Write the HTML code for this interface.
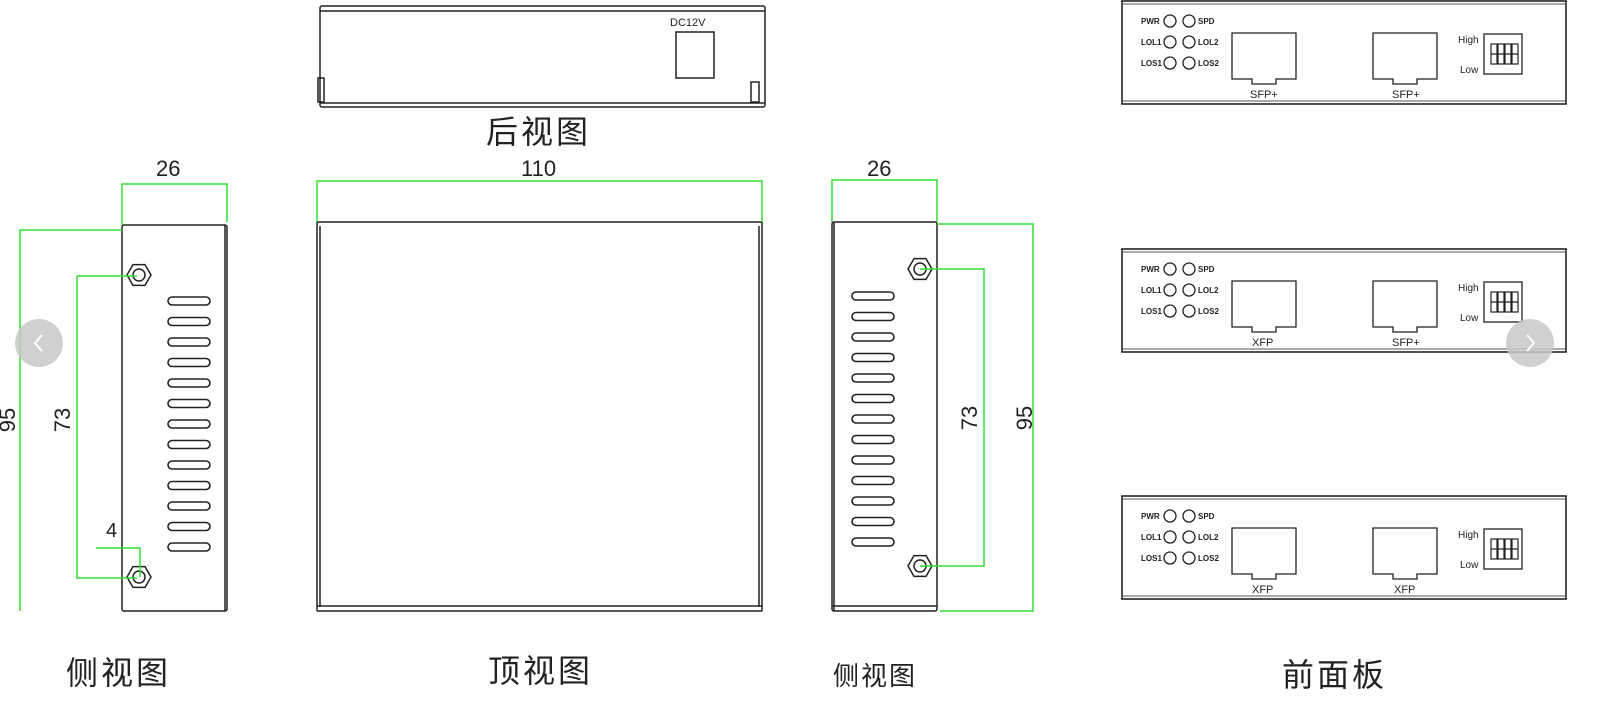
<!DOCTYPE html>
<html><head><meta charset="utf-8"><style>
html,body{margin:0;padding:0;background:#fff;width:1600px;height:702px;overflow:hidden}
svg{display:block}
text{font-family:"Liberation Sans","Noto Sans CJK SC",sans-serif}
</style></head><body>
<svg width="1600" height="702" viewBox="0 0 1600 702" xmlns="http://www.w3.org/2000/svg">
<defs>
<g id="slots" fill="none" stroke="#222" stroke-width="1.6">
<rect x="0" y="0" width="42" height="8" rx="4"/><rect x="0" y="20.5" width="42" height="8" rx="4"/><rect x="0" y="41" width="42" height="8" rx="4"/><rect x="0" y="61.5" width="42" height="8" rx="4"/><rect x="0" y="82" width="42" height="8" rx="4"/><rect x="0" y="102.5" width="42" height="8" rx="4"/><rect x="0" y="123" width="42" height="8" rx="4"/><rect x="0" y="143.5" width="42" height="8" rx="4"/><rect x="0" y="164" width="42" height="8" rx="4"/><rect x="0" y="184.5" width="42" height="8" rx="4"/><rect x="0" y="205" width="42" height="8" rx="4"/><rect x="0" y="225.5" width="42" height="8" rx="4"/><rect x="0" y="246" width="42" height="8" rx="4"/>
</g>
<g id="nut" fill="none" stroke="#222" stroke-width="1.5">
<polygon points="12,0 6,10.4 -6,10.4 -12,0 -6,-10.4 6,-10.4"/><circle r="6"/>
</g>
<g id="port" fill="none" stroke="#222" stroke-width="1.3">
<polygon points="0,0 64,0 64,46 44,46 44,51 20,51 20,46 0,46"/>
</g>
<g id="panel">
<rect x="1122" y="1" width="444" height="103" fill="none" stroke="#222" stroke-width="1.6"/>
<line x1="1122" y1="4" x2="1566" y2="4" stroke="#555" stroke-width="1"/>
<line x1="1122" y1="101" x2="1566" y2="101" stroke="#555" stroke-width="1"/>
<g fill="none" stroke="#222" stroke-width="1.3">
<circle cx="1170" cy="21" r="6"/><circle cx="1189" cy="21" r="6"/>
<circle cx="1170" cy="42" r="6"/><circle cx="1189" cy="42" r="6"/>
<circle cx="1170" cy="63" r="6"/><circle cx="1189" cy="63" r="6"/>
</g>
<g font-size="8" fill="#222" font-weight="bold">
<text x="1141" y="24">PWR</text><text x="1198" y="24">SPD</text>
<text x="1141" y="45">LOL1</text><text x="1198" y="45">LOL2</text>
<text x="1141" y="66">LOS1</text><text x="1198" y="66">LOS2</text>
</g>
<use href="#port" x="1232" y="33"/><use href="#port" x="1373" y="33"/>
<rect x="1484" y="34" width="38" height="40" fill="none" stroke="#222" stroke-width="1.3"/>
<g fill="none" stroke="#222" stroke-width="1.2">
<rect x="1491" y="44" width="6" height="20"/><rect x="1498" y="44" width="6" height="20"/><rect x="1505" y="44" width="6" height="20"/><rect x="1512" y="44" width="6" height="20"/>
<line x1="1491" y1="54" x2="1518" y2="54"/>
</g>
<text x="1458" y="43" font-size="10" fill="#222">High</text>
<text x="1460" y="73" font-size="10" fill="#222">Low</text>
</g>
</defs>

<!-- back view -->
<g fill="none" stroke="#222" stroke-width="1.5">
<rect x="320" y="6" width="445" height="101" rx="2"/>
<line x1="320" y1="11" x2="765" y2="11"/>
<line x1="320" y1="103" x2="765" y2="103"/>
<rect x="676" y="32" width="38" height="46"/>
<rect x="318" y="78" width="6" height="24"/>
<rect x="751" y="82" width="8" height="20"/>
</g>
<text x="670" y="26" font-size="11" fill="#222">DC12V</text>
<text x="486" y="143" font-size="32" fill="#222" letter-spacing="3">后视图</text>

<!-- left side view -->
<g fill="none" stroke="#222" stroke-width="1.5">
<rect x="122" y="225" width="105" height="386" rx="2"/>
<line x1="225" y1="225" x2="225" y2="611"/>
</g>
<use href="#slots" x="168" y="297"/>
<use href="#nut" x="139" y="275"/><use href="#nut" x="139" y="577"/>
<g fill="none" stroke="#33dd33" stroke-width="1.5">
<polyline points="122,225 122,184 227,184 227,222"/>
<polyline points="122,230 20,230 20,611"/>
<polyline points="137,276 77,276 77,578 137,578"/>
<polyline points="96,548 140,548 140,577"/>
</g>
<text x="156" y="176" font-size="22" fill="#222">26</text>
<text x="106" y="537" font-size="20" fill="#222">4</text>
<text font-size="22" fill="#222" transform="translate(15,420) rotate(-90)" text-anchor="middle">95</text>
<text font-size="22" fill="#222" transform="translate(70,420) rotate(-90)" text-anchor="middle">73</text>
<text x="66" y="684" font-size="32" fill="#222" letter-spacing="3">侧视图</text>

<!-- top view -->
<g fill="none" stroke="#222" stroke-width="1.5">
<rect x="317" y="222" width="445" height="389" rx="1"/>
<line x1="320" y1="226" x2="320" y2="607"/>
<line x1="759" y1="226" x2="759" y2="607"/>
<line x1="317" y1="606" x2="762" y2="606"/>
</g>
<g fill="none" stroke="#33dd33" stroke-width="1.5">
<polyline points="317,222 317,181 762,181 762,222"/>
</g>
<text x="521" y="176" font-size="22" fill="#222">110</text>
<text x="488" y="682" font-size="32" fill="#222" letter-spacing="3">顶视图</text>

<!-- right side view -->
<g fill="none" stroke="#222" stroke-width="1.5">
<rect x="832" y="222" width="105" height="389" rx="2"/>
<line x1="834" y1="222" x2="834" y2="611"/>
<line x1="832" y1="606" x2="937" y2="606"/>
</g>
<use href="#slots" x="852" y="292"/>
<use href="#nut" x="920" y="269"/><use href="#nut" x="920" y="566"/>
<g fill="none" stroke="#33dd33" stroke-width="1.5">
<polyline points="832,222 832,180 937,180 937,222"/>
<polyline points="920,269 984,269 984,566 920,566"/>
<polyline points="937,224 1033,224 1033,611 940,611"/>
</g>
<text x="867" y="176" font-size="22" fill="#222">26</text>
<text font-size="22" fill="#222" transform="translate(977,418) rotate(-90)" text-anchor="middle">73</text>
<text font-size="22" fill="#222" transform="translate(1032,418) rotate(-90)" text-anchor="middle">95</text>
<text x="833" y="685" font-size="26" fill="#222" letter-spacing="2">侧视图</text>

<!-- front panels -->
<use href="#panel"/>
<text x="1250" y="98" font-size="11" fill="#222">SFP+</text><text x="1392" y="98" font-size="11" fill="#222">SFP+</text>
<use href="#panel" y="248"/>
<text x="1252" y="346" font-size="11" fill="#222">XFP</text><text x="1392" y="346" font-size="11" fill="#222">SFP+</text>
<use href="#panel" y="495"/>
<text x="1252" y="593" font-size="11" fill="#222">XFP</text><text x="1394" y="593" font-size="11" fill="#222">XFP</text>
<text x="1282" y="686" font-size="32" fill="#222" letter-spacing="3">前面板</text>

<!-- nav buttons -->
<circle cx="39" cy="343" r="24" fill="#c8c8c8" opacity="0.85"/>
<polyline points="42,335 35,343 42,351" fill="none" stroke="#fff" stroke-width="2"/>
<circle cx="1530" cy="343" r="24" fill="#c8c8c8" opacity="0.85"/>
<polyline points="1527,335 1534,343 1527,351" fill="none" stroke="#fff" stroke-width="2"/>
</svg>
</body></html>
